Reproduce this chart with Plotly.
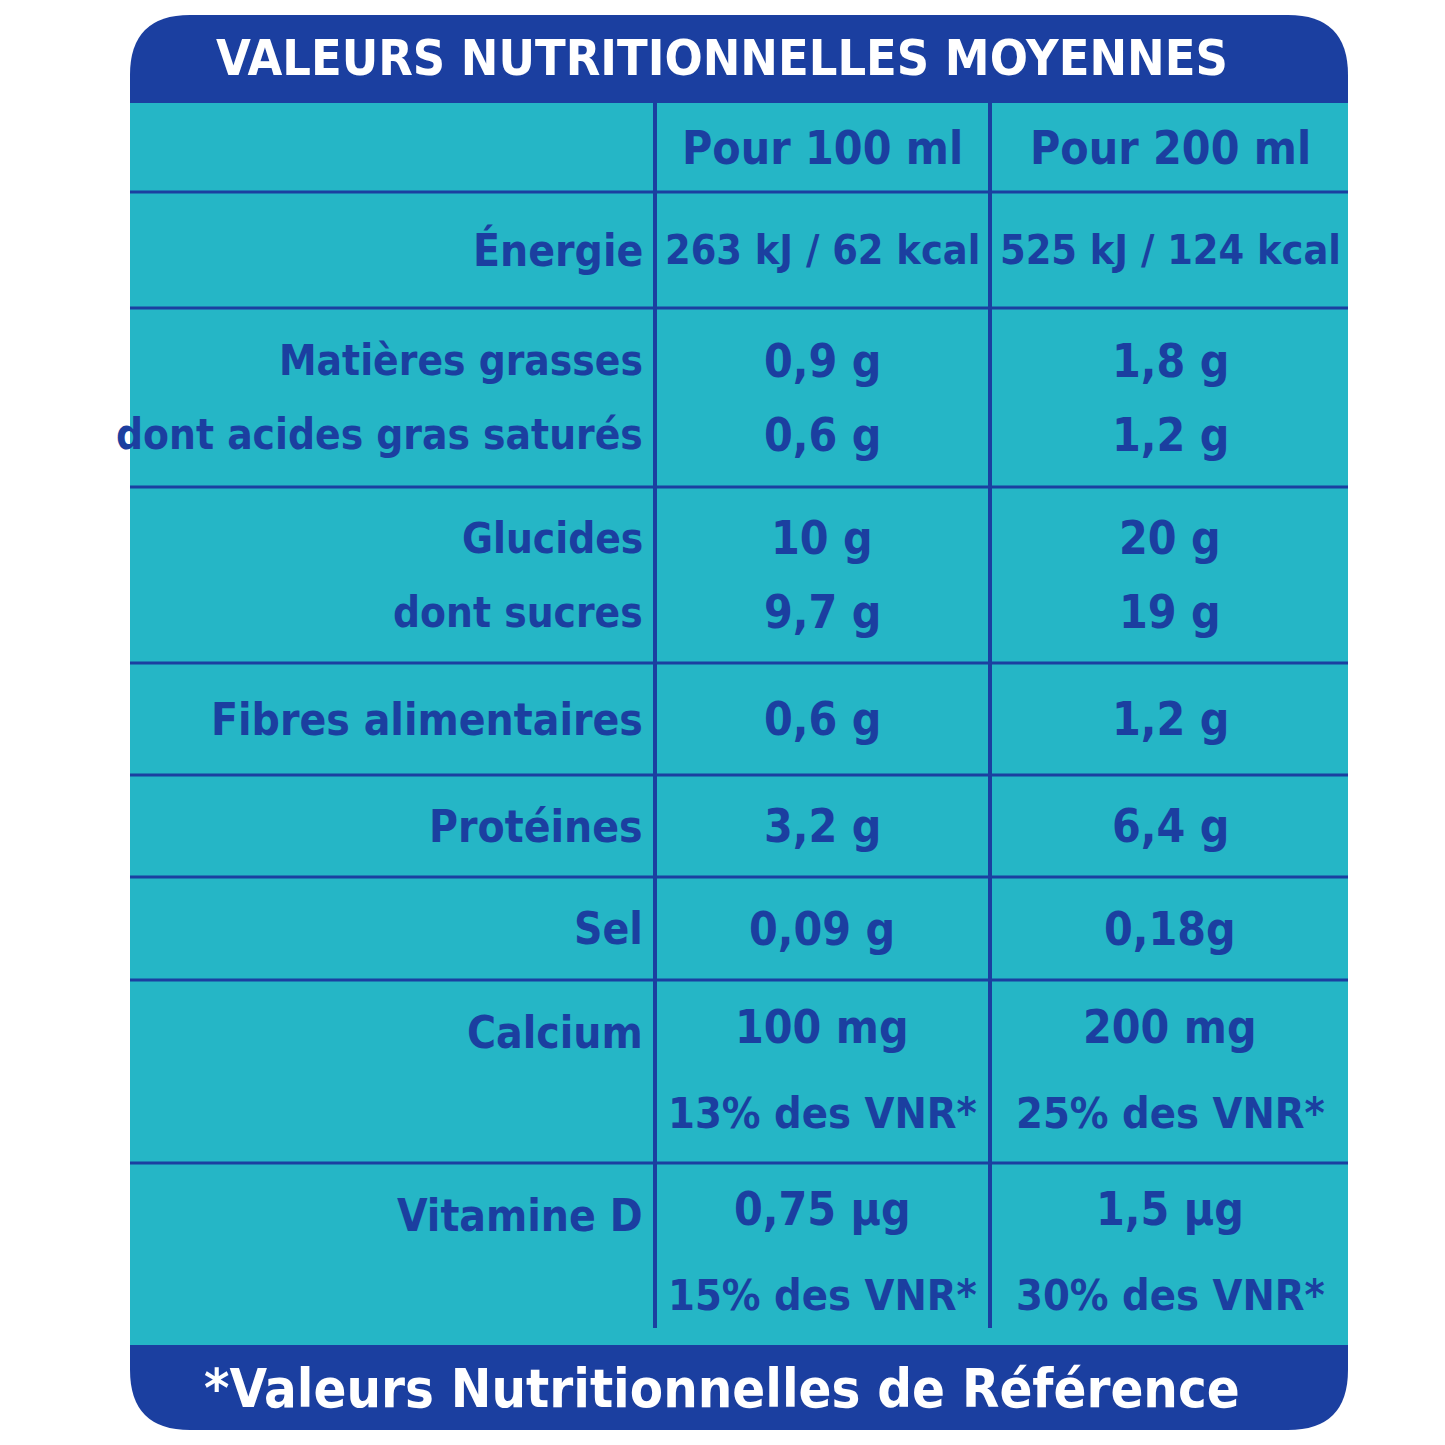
import plotly.graph_objects as go

BLUE = "#1b3fa0"
TEAL = "#25b6c6"
FONT = "DejaVu Sans Condensed, Liberation Sans Narrow, sans-serif"

title = "VALEURS NUTRITIONNELLES MOYENNES"
footer = "*Valeurs Nutritionnelles de Référence"
col_heads = ["Pour 100 ml", "Pour 200 ml"]

labels = ["Énergie", "Matières grasses<br>dont acides gras saturés", "Glucides<br>dont sucres",
          "Fibres alimentaires", "Protéines", "Sel", "Calcium", "Vitamine D"]
per_100 = ["263 kJ / 62 kcal", "0,9 g<br>0,6 g", "10 g<br>9,7 g", "0,6 g", "3,2 g",
           "0,09 g", "100 mg<br>13% des VNR*", "0,75 µg<br>15% des VNR*"]
per_200 = ["525 kJ / 124 kcal", "1,8 g<br>1,2 g", "20 g<br>19 g", "1,2 g", "6,4 g",
           "0,18g", "200 mg<br>25% des VNR*", "1,5 µg<br>30% des VNR*"]

# row boundaries (pixel units of the picture)
row_edges = [103, 192, 308, 487, 663, 775, 877, 980, 1163, 1345]
X0, X1, XC1, XC2 = 130, 1348, 655, 990

fig = go.Figure()
shapes = []
r = 60
shapes.append(dict(type="path", fillcolor=BLUE, line_width=0, layer="below",
                   path=f"M {X0+r},15 L {X1-r},15 Q {X1},15 {X1},{15+r} L {X1},{1430-r} Q {X1},1430 {X1-r},1430 "
                        f"L {X0+r},1430 Q {X0},1430 {X0},{1430-r} L {X0},{15+r} Q {X0},15 {X0+r},15 Z"))
shapes.append(dict(type="rect", x0=X0, x1=X1, y0=103, y1=1345, fillcolor=TEAL, line_width=0, layer="below"))
for y in row_edges[1:-1]:
    shapes.append(dict(type="line", x0=X0, x1=X1, y0=y, y1=y, line=dict(color=BLUE, width=3)))
for x in (XC1, XC2):
    shapes.append(dict(type="line", x0=x, x1=x, y0=103, y1=1328, line=dict(color=BLUE, width=4)))

ann = []
def txt(x, y, t, size=46, anchor="center", color=BLUE):
    ann.append(dict(x=x, y=y, text="<b>" + t + "</b>", showarrow=False, xanchor=anchor, yanchor="middle",
                    font=dict(family=FONT, size=size, color=color)))

def lines(x, mid, t, size, anchor="center", gap=74):
    parts = t.split("<br>")
    for k, p in enumerate(parts):
        s = size if "VNR" not in p else 43
        txt(x, mid + (k - (len(parts) - 1) / 2) * gap, p, size=s, anchor=anchor)

txt(722, 58, title, size=50, color="white")
txt(722, 1388, footer, size=54, color="white")
txt(822, 148, col_heads[0])
txt(1170, 148, col_heads[1])

for i, (lab, a, b) in enumerate(zip(labels, per_100, per_200)):
    top, bot = row_edges[i + 1], row_edges[i + 2]
    mid = (top + bot) / 2
    if "VNR" in a:
        txt(645, top + 52, lab, size=44, anchor="right")
        lines(822, mid - 2, a, 46, gap=86)
        lines(1170, mid - 2, b, 46, gap=86)
        continue
    lines(645, mid, lab, 42 if "<br>" in lab else 44, anchor="right")
    vs = 41 if "kJ" in a else 46
    lines(822, mid, a, vs)
    lines(1170, mid, b, vs)

fig.update_layout(width=1445, height=1445, margin=dict(l=0, r=0, t=0, b=0),
                  paper_bgcolor="white", plot_bgcolor="white", shapes=shapes, annotations=ann,
                  showlegend=False)
# the page adds an 8px body margin, so the ranges start at 8
fig.update_xaxes(range=[8, 1453], visible=False)
fig.update_yaxes(range=[1453, 8], visible=False)
fig.write_html("out.html")
